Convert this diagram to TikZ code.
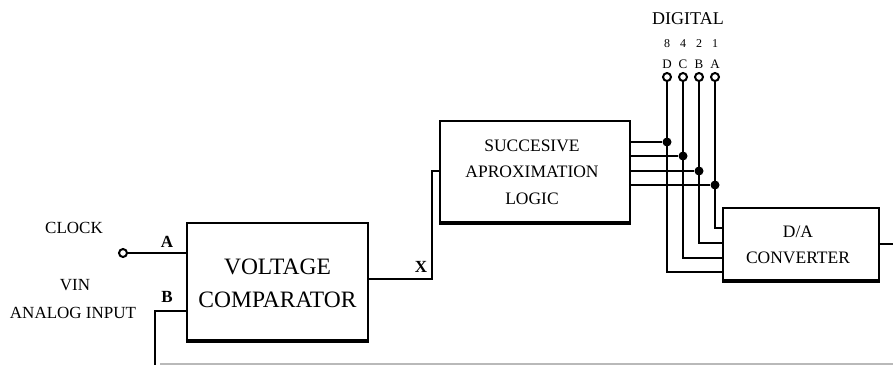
\documentclass[tikz,border=0pt]{standalone}
\usepackage{fontspec}
\setmainfont{Liberation Serif}
\begin{document}
\begin{tikzpicture}[x=1pt,y=-1pt,
  blk/.style={draw,line width=2.3pt,rectangle,inner sep=0pt,align=center},
  wire/.style={line width=2.2pt},
  term/.style={circle,draw,line width=2pt,fill=white,minimum size=8pt,inner sep=0pt},
  jdot/.style={circle,fill=black,minimum size=9pt,inner sep=0pt},
  lbl/.style={inner sep=0pt,font=\fontsize{17.5}{17.5}\selectfont},
  pin/.style={inner sep=0pt,font=\fontsize{17}{17}\selectfont\bfseries},
  small/.style={inner sep=0pt,font=\fontsize{12}{12}\selectfont}]
\useasboundingbox (0,0) rectangle (893,365);
% blocks
\node[blk,minimum width=181pt,minimum height=117pt] (vc) at (277.5,281.5) {};
\node[lbl,font=\fontsize{23.5}{23.5}\selectfont] (vct1) at (277.5,267) {VOLTAGE};
\node[lbl,font=\fontsize{23.5}{23.5}\selectfont] (vct2) at (277.5,300) {COMPARATOR};
\draw[line width=4pt] (vc.south west) -- (vc.south east);
\node[blk,minimum width=190pt,minimum height=101pt] (sal) at (535,171.5) {};
\node[lbl] (st1) at (532,146) {SUCCESIVE};
\node[lbl] (st2) at (532,172) {APROXIMATION};
\node[lbl] (st3) at (532,199) {LOGIC};
\draw[line width=3.5pt] (sal.south west) -- (sal.south east);
\node[blk,minimum width=156pt,minimum height=72pt] (da) at (801,244) {};
\node[lbl] (dt1) at (798,232) {D/A};
\node[lbl] (dt2) at (798,258) {CONVERTER};
\draw[line width=3.5pt] (da.south west) -- (da.south east);
% left labels
\node[lbl,font=\fontsize{17}{17}\selectfont] (clkl) at (74,228) {CLOCK};
\node[lbl,font=\fontsize{17}{17}\selectfont] (vin) at (75,285) {VIN};
\node[lbl,font=\fontsize{17}{17}\selectfont] (ana) at (73,313) {ANALOG INPUT};
\node[pin] (pa) at (167,242) {A};
\node[pin] (pb) at (167,297) {B};
\node[pin] (px) at (421,267) {X};
% analog input B
\coordinate (bcorner) at (155,311);
\coordinate (bend) at (155,365);
\draw[wire] (vc.west |- bcorner) -- (bcorner) -- (bend);
% clock input
\node[term] (clk) at (123,253) {};
\draw[wire] (clk) -- (vc.west |- clk);
% X connection
\coordinate (x1) at (432,279);
\coordinate (x2) at (432,171);
\draw[wire] (vc.east |- x1) -- (x1) -- (x2) -- (sal.west |- x2);
% output to right
\coordinate (dout) at (893,244);
\draw[wire] (da.east |- dout) -- (dout);
% faint line at bottom
\coordinate (fb1) at (160,364);
\coordinate (fb2) at (893,364);
\draw[gray!55,line width=1.5pt] (fb1) -- (fb2);
% digital outputs
\node[lbl,font=\fontsize{18}{18}\selectfont] (dig) at (688,19) {DIGITAL};
\foreach \n/\x/\w/\l/\yy/\yd in {D/667/8/D/142/272, C/683/4/C/156/258, B/699/2/B/171/243, A/715/1/A/185/228}{
  \node[small] (w\n) at (\x,44) {\w};
  \node[small,font=\fontsize{13}{13}\selectfont] (l\n) at (\x,64) {\l};
  \node[jdot] (j\n) at (\x,\yy) {};
  \coordinate (c\n) at (\x,\yd);
  \draw[wire] (sal.east |- j\n) -- (j\n);
  \draw[wire] (\x,77) -- (c\n) -- (da.west |- c\n);
  \node[term] (t\n) at (\x,77) {};
}
\end{tikzpicture}
\end{document}
